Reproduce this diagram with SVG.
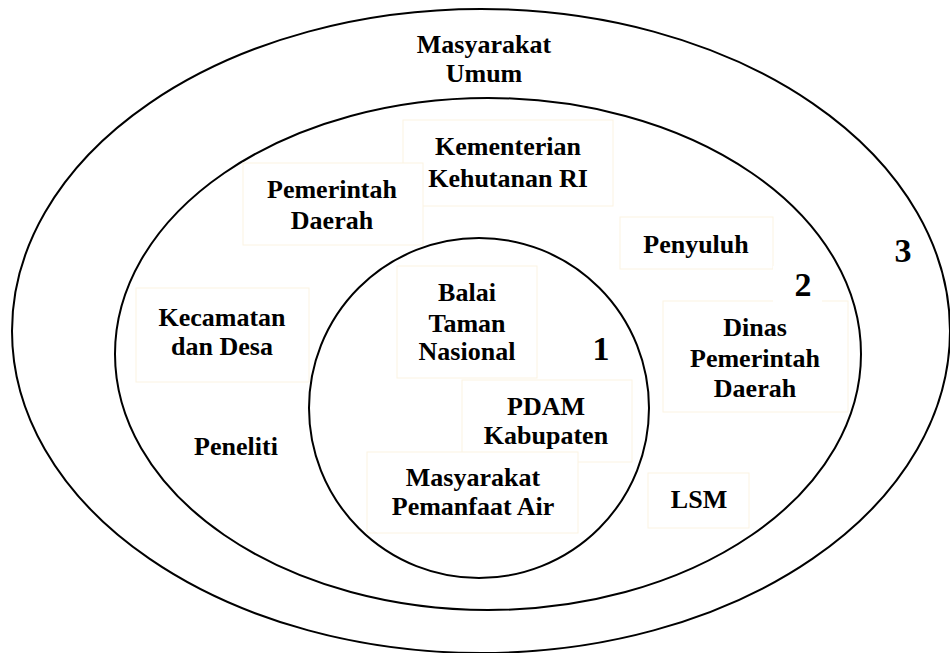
<svg xmlns="http://www.w3.org/2000/svg" width="950" height="653" viewBox="0 0 950 653">
<style>
.ring{fill:none;stroke:#000;stroke-width:2}
.box{fill:#fff;stroke:#fbf3e2;stroke-width:1}
text{font-family:"Liberation Serif","Times New Roman",serif;font-weight:bold;font-size:26px;fill:#000;text-anchor:middle}
.num{font-size:34px}
</style>
<rect width="950" height="653" fill="#fff"/>
<g id="ring-3"><ellipse class="ring" cx="481" cy="331" rx="469" ry="322"/></g>
<g id="ring-2"><ellipse class="ring" cx="488" cy="354" rx="373" ry="256"/></g>
<g id="ring-1"><ellipse class="ring" cx="479" cy="408" rx="170" ry="170"/></g>
<g id="connectors"></g>
<g id="masyarakat-umum"><text x="484" y="53">Masyarakat</text><text x="484" y="82">Umum</text></g>
<g id="kementerian"><rect class="box" x="403" y="120" width="210" height="86"/><text x="508" y="155">Kementerian</text><text x="508" y="187">Kehutanan RI</text></g>
<g id="pemerintah-daerah"><rect class="box" x="243" y="163" width="180" height="82"/><text x="332" y="198">Pemerintah</text><text x="332" y="229">Daerah</text></g>
<g id="penyuluh"><rect class="box" x="620" y="217" width="153" height="52"/><text x="696" y="253">Penyuluh</text></g>
<g id="kecamatan"><rect class="box" x="136" y="288" width="173" height="94"/><text x="222" y="326">Kecamatan</text><text x="222" y="355">dan Desa</text></g>
<g id="peneliti"><text x="236" y="455">Peneliti</text></g>
<g id="balai"><rect class="box" x="397" y="266" width="140" height="112"/><text x="467" y="301">Balai</text><text x="467" y="332">Taman</text><text x="467" y="360">Nasional</text></g>
<g id="pdam"><rect class="box" x="462" y="380" width="170" height="82"/><text x="546" y="415">PDAM</text><text x="546" y="444">Kabupaten</text></g>
<g id="masyarakat-pemanfaat"><rect class="box" x="367" y="452" width="211" height="81"/><text x="473" y="486">Masyarakat</text><text x="473" y="515">Pemanfaat Air</text></g>
<g id="dinas"><rect class="box" x="663" y="301" width="185" height="111"/><text x="755" y="336">Dinas</text><text x="755" y="367">Pemerintah</text><text x="755" y="397">Daerah</text></g>
<g id="lsm"><rect class="box" x="648" y="473" width="101" height="55"/><text x="699" y="508">LSM</text></g>
<g id="label-1"><text class="num" x="601" y="360">1</text></g>
<g id="label-2"><rect x="773" y="266" width="49" height="38" fill="#fff"/><text class="num" x="803" y="296">2</text></g>
<g id="label-3"><text class="num" x="903" y="262">3</text></g>
</svg>
